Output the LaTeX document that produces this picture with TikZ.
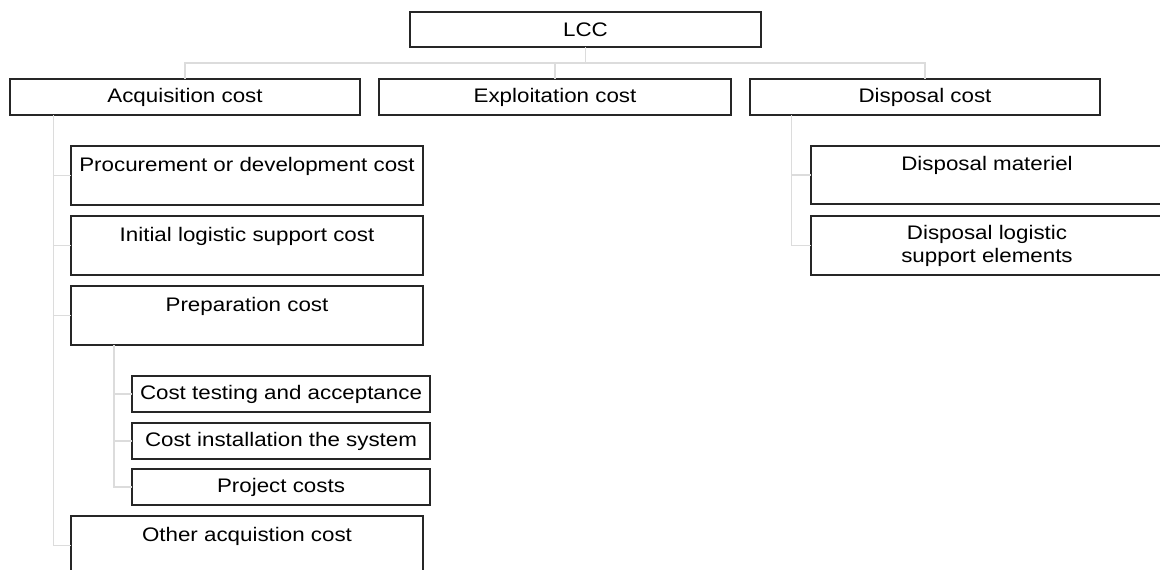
\documentclass[tikz,border=0pt]{standalone}
\usepackage{fontspec}
\setmainfont[FakeStretch=1.14]{Liberation Sans}
\begin{document}
\begin{tikzpicture}[x=1pt,y=-1pt,
  box/.style={draw=boxline, line width=1.3pt, anchor=north west, inner sep=0pt, outer sep=0pt,
    align=center, font=\fontsize{19.6}{23}\selectfont, text=black},
  wide/.style={box, minimum width=352, minimum height=36},
  tall/.style={box, minimum width=352, minimum height=59},
  small/.style={box, minimum width=298, minimum height=36},
  conn/.style={draw=connline, line width=1.6pt}]
\definecolor{boxline}{HTML}{262626}
\definecolor{connline}{HTML}{DCDCDC}
\useasboundingbox (0,0) rectangle (1160,570);
\clip (0,0) rectangle (1160,570);

% top level
\node[box, minimum width=351, minimum height=35] (lcc) at (410,12) {LCC};
\node[wide, minimum width=350] (acq) at (10,79) {Acquisition cost};
\node[wide] (expl) at (379,79) {Exploitation cost};
\node[wide, minimum width=350] (disp) at (750,79) {Disposal cost};

% acquisition branch
\node[tall] (proc) at (71,146) {Procurement or development cost\\\mbox{}};
\node[tall] (ilsc) at (71,216) {Initial logistic support cost\\\mbox{}};
\node[tall] (prep) at (71,286) {Preparation cost\\\mbox{}};
\node[small] (test) at (132,376) {Cost testing and acceptance};
\node[small] (inst) at (132,423) {Cost installation the system};
\node[small] (proj) at (132,469) {Project costs};
\node[tall] (other) at (71,516) {Other acquistion cost\\\mbox{}};

% disposal branch
\node[tall, minimum height=58] (dmat) at (811,146) {Disposal materiel\\\mbox{}};
\node[tall] (dlog) at (811,216) {Disposal logistic\\support elements};

% connectors: root to first level
\draw[conn] (lcc.south) -- ++(0,16);
\draw[conn] (acq.north) -- ++(0,-16) -| (disp.north);
\draw[conn] (expl.north) -- ++(0,-16);

% acquisition children
\coordinate (atrunk) at ([xshift=43.5]acq.south west);
\draw[conn] (atrunk) |- (other.west);
\foreach \n in {proc,ilsc,prep} \draw[conn] (\n.west) -- (\n.west -| atrunk);

% preparation children
\coordinate (ptrunk) at ([xshift=43]prep.south west);
\draw[conn] (ptrunk) |- (proj.west);
\foreach \n in {test,inst} \draw[conn] (\n.west) -- (\n.west -| ptrunk);

% disposal children
\coordinate (dtrunk) at ([xshift=41.6]disp.south west);
\draw[conn] (dtrunk) |- (dlog.west);
\draw[conn] (dmat.west) -- (dmat.west -| dtrunk);
\end{tikzpicture}
\end{document}
